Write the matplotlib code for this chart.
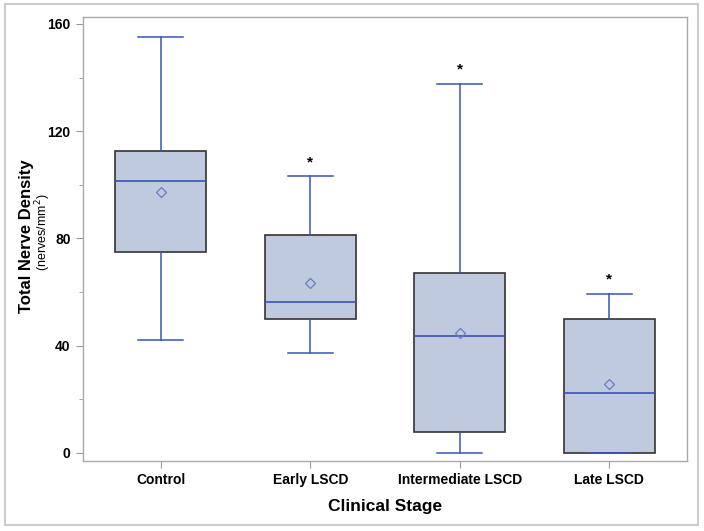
import matplotlib
matplotlib.use("Agg")
import matplotlib.pyplot as plt
from matplotlib.patches import Rectangle

plt.rcParams['font.family'] = ['Liberation Sans', 'DejaVu Sans']

# values
stages = ["Control", "Early LSCD", "Intermediate LSCD", "Late LSCD"]
whisker_low = [42.2, 37.4, 0.0, 0.0]
q1 = [75.1, 50.0, 7.7, 0.0]
median = [101.6, 56.2, 43.7, 22.5]
q3 = [112.7, 81.3, 67.2, 49.9]
whisker_high = [155.2, 103.2, 137.7, 59.4]
mean = [97.4, 63.3, 44.8, 25.6]
significant = [False, True, True, True]

box_fill = "#bfcadf"
blue = "#3a53b8"

stats = []
for i, name in enumerate(stages):
    stats.append({
        "label": name,
        "whislo": whisker_low[i],
        "q1": q1[i],
        "med": median[i],
        "q3": q3[i],
        "whishi": whisker_high[i],
        "mean": mean[i],
        "fliers": [],
    })

fig = plt.figure(figsize=(7.04, 5.31), dpi=100)
ax = fig.add_axes([0.118, 0.132, 0.858, 0.836])

ax.bxp(stats, positions=range(len(stages)), widths=0.61, patch_artist=True,
       showmeans=True, showfliers=False,
       boxprops=dict(facecolor=box_fill, edgecolor="#333333", linewidth=1.2),
       whiskerprops=dict(color=blue, linewidth=1.1),
       capprops=dict(color=blue, linewidth=1.1),
       medianprops=dict(color=blue, linewidth=1.2),
       meanprops=dict(marker="D", markersize=5, markerfacecolor="none",
                      markeredgecolor="#6a7bc8", markeredgewidth=0.9),
       capwidths=0.30)

for i, sig in enumerate(significant):
    if sig:
        ax.annotate("*", (i, whisker_high[i]), xytext=(0, 5),
                    textcoords="offset points", ha="center", va="bottom",
                    fontsize=11, fontweight="bold")

ax.set_xlim(-0.52, 3.52)
ax.set_ylim(-3.0, 162.6)
ax.set_yticks([0, 40, 80, 120, 160])
ax.set_yticks([20, 60, 100, 140], minor=True)
ax.set_xticks(range(len(stages)))
ax.set_xticklabels(stages)

for lab in ax.get_xticklabels() + ax.get_yticklabels():
    lab.set_fontweight("bold")
    lab.set_fontsize(10)
ax.tick_params(axis="both", which="major", length=5, color="#999999", pad=4)
ax.tick_params(axis="y", which="minor", length=3, color="#999999")
for s in ax.spines.values():
    s.set_color("#aaaaaa")
    s.set_linewidth(1.0)

ax.set_xlabel("Clinical Stage", fontsize=12.5, fontweight="bold", labelpad=8)

fig.text(0.038, 0.556, "Total Nerve Density", rotation=90, ha="center",
         va="center", fontsize=12, fontweight="bold")
fig.text(0.061, 0.563, "(nerves/mm$^2$)", rotation=90, ha="center",
         va="center", fontsize=9)

fig.patches.append(Rectangle((5 / 704, 1 - 525 / 531), 693 / 704, 521 / 531,
                             transform=fig.transFigure, fill=False,
                             edgecolor="#cccccc", linewidth=1.5))

plt.savefig("out.png", dpi=100)
